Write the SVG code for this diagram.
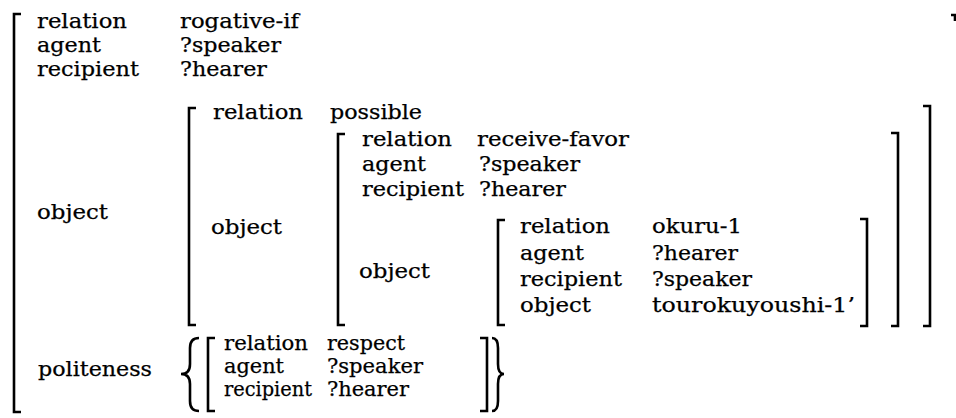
<svg xmlns="http://www.w3.org/2000/svg" width="956" height="418" viewBox="0 0 956 418">
<style>
text { font-family: "DejaVu Serif", "Liberation Serif", serif; font-size: 20px; fill: #000; stroke: #000; stroke-width: 0.25; }
.br { fill: none; stroke: #000; stroke-width: 2.6; stroke-linejoin: miter; }
</style>
<rect width="956" height="418" fill="#fff"/>

<g id="avm-root">
  <path class="br" d="M21,14 L14,14 L14,412 L21,412"/>
  <path class="br" d="M951,15 L955,15 L955,21"/>
  <text x="37" y="28" textLength="90" lengthAdjust="spacingAndGlyphs">relation</text>
  <text x="180" y="28" textLength="119" lengthAdjust="spacingAndGlyphs">rogative-if</text>
  <text x="37" y="52" textLength="64" lengthAdjust="spacingAndGlyphs">agent</text>
  <text x="180" y="52" textLength="101" lengthAdjust="spacingAndGlyphs">?speaker</text>
  <text x="37" y="76" textLength="102" lengthAdjust="spacingAndGlyphs">recipient</text>
  <text x="180" y="76" textLength="87" lengthAdjust="spacingAndGlyphs">?hearer</text>
  <text x="37" y="219" textLength="71" lengthAdjust="spacingAndGlyphs">object</text>
  <text x="38" y="376" textLength="114" lengthAdjust="spacingAndGlyphs">politeness</text>
</g>

<g id="avm-possible">
  <path class="br" d="M196,108 L189,108 L189,325 L196,325"/>
  <path class="br" d="M923,106 L930,106 L930,326 L923,326"/>
  <text x="213" y="119" textLength="90" lengthAdjust="spacingAndGlyphs">relation</text>
  <text x="330" y="119" textLength="92" lengthAdjust="spacingAndGlyphs">possible</text>
  <text x="211" y="234" textLength="71" lengthAdjust="spacingAndGlyphs">object</text>
</g>

<g id="avm-receive-favor">
  <path class="br" d="M345,134 L338,134 L338,325 L345,325"/>
  <path class="br" d="M891,133 L898,133 L898,326 L891,326"/>
  <text x="362" y="146" textLength="90" lengthAdjust="spacingAndGlyphs">relation</text>
  <text x="477" y="146" textLength="152" lengthAdjust="spacingAndGlyphs">receive-favor</text>
  <text x="362" y="171" textLength="64" lengthAdjust="spacingAndGlyphs">agent</text>
  <text x="479" y="171" textLength="101" lengthAdjust="spacingAndGlyphs">?speaker</text>
  <text x="362" y="196" textLength="102" lengthAdjust="spacingAndGlyphs">recipient</text>
  <text x="479" y="196" textLength="87" lengthAdjust="spacingAndGlyphs">?hearer</text>
  <text x="359" y="278" textLength="71" lengthAdjust="spacingAndGlyphs">object</text>
</g>

<g id="avm-okuru">
  <path class="br" d="M505,220 L498,220 L498,325 L505,325"/>
  <path class="br" d="M860,219 L867,219 L867,326 L860,326"/>
  <text x="520" y="233" textLength="90" lengthAdjust="spacingAndGlyphs">relation</text>
  <text x="652" y="233" textLength="90" lengthAdjust="spacingAndGlyphs">okuru-1</text>
  <text x="520" y="260" textLength="64" lengthAdjust="spacingAndGlyphs">agent</text>
  <text x="652" y="260" textLength="86" lengthAdjust="spacingAndGlyphs">?hearer</text>
  <text x="520" y="286" textLength="102" lengthAdjust="spacingAndGlyphs">recipient</text>
  <text x="652" y="286" textLength="100" lengthAdjust="spacingAndGlyphs">?speaker</text>
  <text x="520" y="312" textLength="71" lengthAdjust="spacingAndGlyphs">object</text>
  <text x="652" y="312" textLength="203" lengthAdjust="spacingAndGlyphs">tourokuyoushi-1’</text>
</g>

<g id="avm-respect">
  <path class="br" d="M199,338 Q190,338 190,348 L190,364 Q190,374 181,374 Q190,374 190,384 L190,401 Q190,411 199,411"/>
  <path class="br" d="M215,338 L208,338 L208,411 L215,411"/>
  <path class="br" d="M480,338 L487,338 L487,411 L480,411"/>
  <path class="br" d="M492,338 Q498,338 498,348 L498,364 Q498,374 504,374 Q498,374 498,384 L498,401 Q498,411 492,411"/>
  <text x="224" y="350" textLength="84" lengthAdjust="spacingAndGlyphs">relation</text>
  <text x="327" y="350" textLength="78" lengthAdjust="spacingAndGlyphs">respect</text>
  <text x="224" y="373" textLength="60" lengthAdjust="spacingAndGlyphs">agent</text>
  <text x="327" y="373" textLength="96" lengthAdjust="spacingAndGlyphs">?speaker</text>
  <text x="224" y="396" textLength="88" lengthAdjust="spacingAndGlyphs">recipient</text>
  <text x="327" y="396" textLength="82" lengthAdjust="spacingAndGlyphs">?hearer</text>
</g>
</svg>
